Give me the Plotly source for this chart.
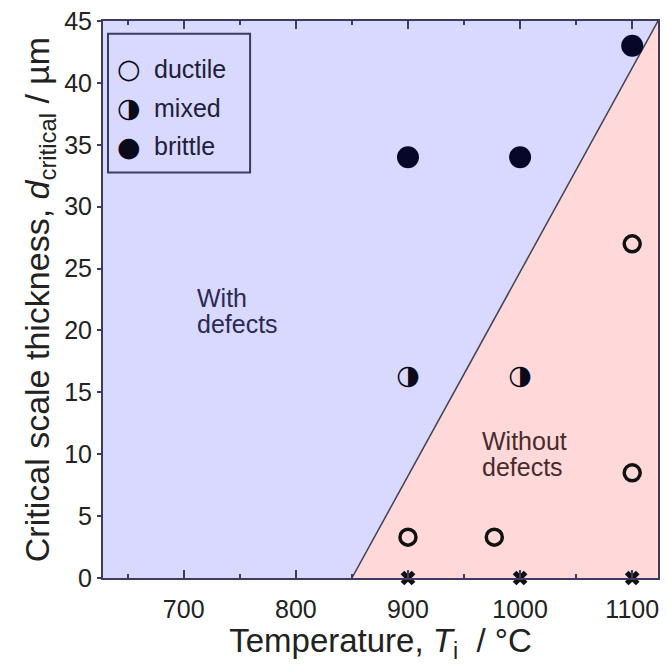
import plotly.graph_objects as go

# ---- data ----
ductile_T = [900, 977, 1100, 1100]
ductile_d = [3.3, 3.3, 8.5, 27]
mixed_T = [900, 1000]
mixed_d = [16.2, 16.2]
brittle_T = [900, 1000, 1100]
brittle_d = [34, 34, 43]
nofail_T = [900, 1000, 1100]
nofail_d = [0, 0, 0]
boundary_T = [850, 1123]
boundary_d = [0, 45]
x_range = [628, 1123]
y_range = [0, 45]
x_ticks = [700, 800, 900, 1000, 1100]
y_ticks = [0, 5, 10, 15, 20, 25, 30, 35, 40, 45]
legend_names = ["ductile", "mixed", "brittle"]
legend_glyphs = ["\u25CB", "\u25D1", "\u25CF"]

FONT = "Liberation Sans, Arial, sans-serif"
BLUE_BG = "#d9d9ff"
PINK_BG = "#ffd9d9"
FRAME = "#3c3c62"
DARK = "#07072a"

fig = go.Figure()

# "without defects" region (right of boundary)
fig.add_trace(go.Scatter(
    x=boundary_T + [x_range[1]], y=boundary_d + [y_range[0]],
    fill="toself", fillcolor=PINK_BG, mode="none", hoverinfo="skip",
    showlegend=False))
# boundary line
fig.add_trace(go.Scatter(
    x=boundary_T, y=boundary_d, mode="lines",
    line=dict(color="#404050", width=1.5), hoverinfo="skip", showlegend=False))

# ductile
fig.add_trace(go.Scatter(
    x=ductile_T, y=ductile_d, mode="markers", name="ductile",
    marker=dict(symbol="circle-open", size=16, color="#111111",
                line=dict(width=3.5, color="#111111")),
    showlegend=False))
# mixed (half-filled glyph)
fig.add_trace(go.Scatter(
    x=mixed_T, y=mixed_d, mode="text", name="mixed",
    text=["\u25D1"] * len(mixed_T), textposition="middle center",
    textfont=dict(family="DejaVu Sans", size=27, color="#0a0a1a"),
    showlegend=False, cliponaxis=False))
# brittle
fig.add_trace(go.Scatter(
    x=brittle_T, y=brittle_d, mode="markers", name="brittle",
    marker=dict(symbol="circle", size=22, color=DARK),
    showlegend=False, cliponaxis=False))
# no-failure crosses on axis
fig.add_trace(go.Scatter(
    x=nofail_T, y=nofail_d, mode="markers",
    marker=dict(symbol="x", size=13, color="#111111",
                line=dict(width=0)),
    showlegend=False, cliponaxis=False))

# legend box
fig.add_shape(type="rect", xref="paper", yref="paper",
              x0=0.009, x1=0.265, y0=0.728, y1=0.977,
              line=dict(color=FRAME, width=2), fillcolor=BLUE_BG, layer="above")
leg_y = [0.914, 0.844, 0.775]
for name, glyph, yy in zip(legend_names, legend_glyphs, leg_y):
    fig.add_annotation(xref="paper", yref="paper", x=0.047, y=yy,
                       text=glyph, showarrow=False, xanchor="center", yanchor="middle",
                       font=dict(family="DejaVu Sans", size=27, color="#0a0a1a"))
    fig.add_annotation(xref="paper", yref="paper", x=0.088, y=yy,
                       text=name, showarrow=False, xanchor="left", yanchor="middle",
                       font=dict(family=FONT, size=25, color="#20203a"))

# region labels
fig.add_annotation(x=709.8, y=22.6, text="With", showarrow=False,
                   xanchor="left", yanchor="middle",
                   font=dict(family=FONT, size=25, color="#2a2a55"))
fig.add_annotation(x=709.8, y=20.5, text="defects", showarrow=False,
                   xanchor="left", yanchor="middle",
                   font=dict(family=FONT, size=25, color="#2a2a55"))
fig.add_annotation(x=964.5, y=11.1, text="Without", showarrow=False,
                   xanchor="left", yanchor="middle",
                   font=dict(family=FONT, size=25, color="#4a2a2a"))
fig.add_annotation(x=964.5, y=9.0, text="defects", showarrow=False,
                   xanchor="left", yanchor="middle",
                   font=dict(family=FONT, size=25, color="#4a2a2a"))

fig.update_layout(
    width=667, height=664,
    margin=dict(l=103, r=7, t=19, b=86),
    paper_bgcolor="white", plot_bgcolor=BLUE_BG,
    showlegend=False,
    font=dict(family=FONT, color="#222222"),
    xaxis=dict(
        range=x_range, tickvals=x_ticks, ticks="inside", ticklen=8, tickwidth=2,
        tickcolor=FRAME, showline=True, linecolor=FRAME, linewidth=2, mirror="ticks",
        showgrid=False, zeroline=False, tickfont=dict(size=25, color="#222222"),
        ticklabelstandoff=8,
        minor=dict(dtick=50, tick0=650, ticks="inside", ticklen=4, tickwidth=1.5,
                   tickcolor=FRAME, showgrid=False),
        title=dict(text="Temperature, <i>T</i><sub>i</sub>&nbsp; / \u00B0C",
                   font=dict(size=33, color="#222222"), standoff=10),
    ),
    yaxis=dict(
        range=y_range, tickvals=y_ticks, ticks="outside", ticklen=4, tickwidth=2,
        tickcolor=FRAME, showline=True, linecolor=FRAME, linewidth=2, mirror=True,
        showgrid=False, zeroline=False, tickfont=dict(size=25, color="#222222"),
        title=dict(text="Critical scale thickness, <i>d</i><sub>critical</sub> / \u00B5m",
                   font=dict(size=34, color="#222222"), standoff=4),
    ),
)

fig.write_html("out.html")
